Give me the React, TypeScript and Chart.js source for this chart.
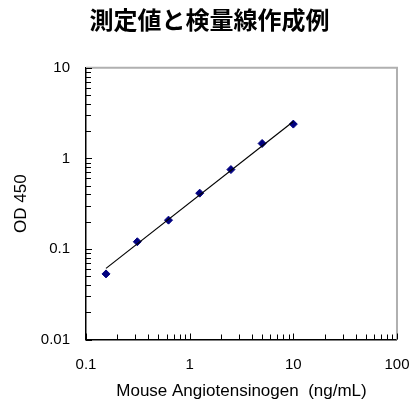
import React, { useEffect, useRef } from 'react';
import { Chart, registerables } from 'chart.js';

Chart.register(...registerables);

// ---- data ----
const concentrations = [0.156, 0.3125, 0.625, 1.25, 2.5, 5, 10];
const odValues = [0.053, 0.12, 0.208, 0.413, 0.752, 1.46, 2.39];
const fitX = [0.156, 10];
const fitY = [0.061, 2.55];
const xMajorTicks = [0.1, 1, 10, 100];
const yMajorTicks = [0.01, 0.1, 1, 10];
const chartTitle = '測定値と検量線作成例';
const xAxisTitle = 'Mouse Angiotensinogen  (ng/mL)';
const yAxisTitle = 'OD 450';

function withMinor(majors: number[]): number[] {
  const out: number[] = [];
  for (let i = 0; i < majors.length; i++) {
    out.push(majors[i]);
    if (i < majors.length - 1) {
      for (let k = 2; k <= 9; k++) out.push(+(majors[i] * k).toPrecision(6));
    }
  }
  return out;
}

const LABEL_FONT = { family: "'Liberation Sans', Arial, sans-serif", size: 15 };
const TITLE_FONT = { family: "'Liberation Sans', Arial, sans-serif", size: 17 };

const frameTicks = {
  id: 'frameTicks',
  afterDatasetsDraw(chart: any) {
    const { ctx, chartArea } = chart;
    const { left, right, top, bottom } = chartArea;
    ctx.save();
    // grey top and right frame
    ctx.strokeStyle = '#b0b0b0';
    ctx.lineWidth = 2;
    ctx.beginPath();
    ctx.moveTo(left, top);
    ctx.lineTo(right, top);
    ctx.lineTo(right, bottom);
    ctx.stroke();
    // inward tick marks
    ctx.strokeStyle = '#000';
    ctx.lineWidth = 1;
    const xs = chart.scales.x;
    const ys = chart.scales.y;
    xs.ticks.forEach((t: any) => {
      const px = Math.round(xs.getPixelForValue(t.value)) + 0.5;
      const len = xMajorTicks.includes(t.value) ? 6 : 5;
      ctx.beginPath();
      ctx.moveTo(px, bottom);
      ctx.lineTo(px, bottom - len);
      ctx.stroke();
    });
    ys.ticks.forEach((t: any) => {
      const py = Math.round(ys.getPixelForValue(t.value)) + 0.5;
      const len = yMajorTicks.includes(t.value) ? 6 : 5;
      ctx.beginPath();
      ctx.moveTo(left, py);
      ctx.lineTo(left + len, py);
      ctx.stroke();
    });
    ctx.restore();
  },
};

export default function App() {
  const ref = useRef<HTMLCanvasElement>(null);

  useEffect(() => {
    if (!ref.current) return;
    const xAll = withMinor(xMajorTicks);
    const yAll = withMinor(yMajorTicks);
    const chart = new Chart(ref.current, {
      type: 'scatter',
      data: {
        datasets: [
          {
            label: 'fit',
            data: fitX.map((x, i) => ({ x, y: fitY[i] })),
            showLine: true,
            borderColor: '#000',
            borderWidth: 1.2,
            pointRadius: 0,
            fill: false,
          },
          {
            label: 'measured',
            data: concentrations.map((x, i) => ({ x, y: odValues[i] })),
            pointStyle: 'rectRot',
            pointRadius: 4,
            backgroundColor: '#000080',
            borderColor: '#000080',
            borderWidth: 1,
          },
        ],
      },
      options: {
        responsive: false,
        animation: false,
        layout: { padding: { left: 11, right: 6, top: 0, bottom: 0 } },
        plugins: {
          legend: { display: false },
          tooltip: { enabled: false },
          title: {
            display: true,
            text: chartTitle,
            color: '#000',
            font: { family: "'Noto Sans CJK JP', sans-serif", size: 24, weight: 'bold' },
            padding: { top: 5.5, bottom: 33.5 },
          },
        },
        scales: {
          x: {
            type: 'logarithmic',
            position: 'bottom',
            min: 0.1,
            max: 100,
            afterBuildTicks: (scale: any) => {
              scale.ticks = xAll.map((v) => ({ value: v, major: xMajorTicks.includes(v) }));
            },
            afterFit: (scale: any) => {
              scale.height = 64.5;
            },
            grid: {
              display: true,
              drawOnChartArea: false,
              drawTicks: true,
              tickLength: 11.5,
              color: 'rgba(0,0,0,0)',
            },
            border: { display: true, color: '#000', width: 1.5 },
            ticks: {
              autoSkip: false,
              maxRotation: 0,
              padding: 4.5,
              color: '#000',
              font: LABEL_FONT,
              callback: (v: any) => (xMajorTicks.includes(v) ? String(v) : ''),
            },
            title: {
              display: true,
              text: xAxisTitle,
              color: '#000',
              font: TITLE_FONT,
              padding: { top: 0, bottom: 2 },
            },
          },
          y: {
            type: 'logarithmic',
            position: 'left',
            min: 0.01,
            max: 10,
            afterBuildTicks: (scale: any) => {
              scale.ticks = yAll.map((v) => ({ value: v, major: yMajorTicks.includes(v) }));
            },
            afterFit: (scale: any) => {
              scale.width = 75;
            },
            grid: { display: false, drawTicks: false },
            border: { display: true, color: '#000', width: 1.5 },
            ticks: {
              autoSkip: false,
              padding: 16,
              color: '#000',
              font: LABEL_FONT,
              callback: (v: any) => (yMajorTicks.includes(v) ? String(v) : ''),
            },
            title: {
              display: true,
              text: yAxisTitle,
              color: '#000',
              font: TITLE_FONT,
              padding: { top: 0, bottom: 0 },
            },
          },
        },
      },
      plugins: [frameTicks],
    } as any);
    return () => chart.destroy();
  }, []);

  return (
    <div style={{ position: 'absolute', left: 0, top: 0, width: 414, height: 404, background: '#fff' }}>
      <canvas ref={ref} width={414} height={404} />
    </div>
  );
}
